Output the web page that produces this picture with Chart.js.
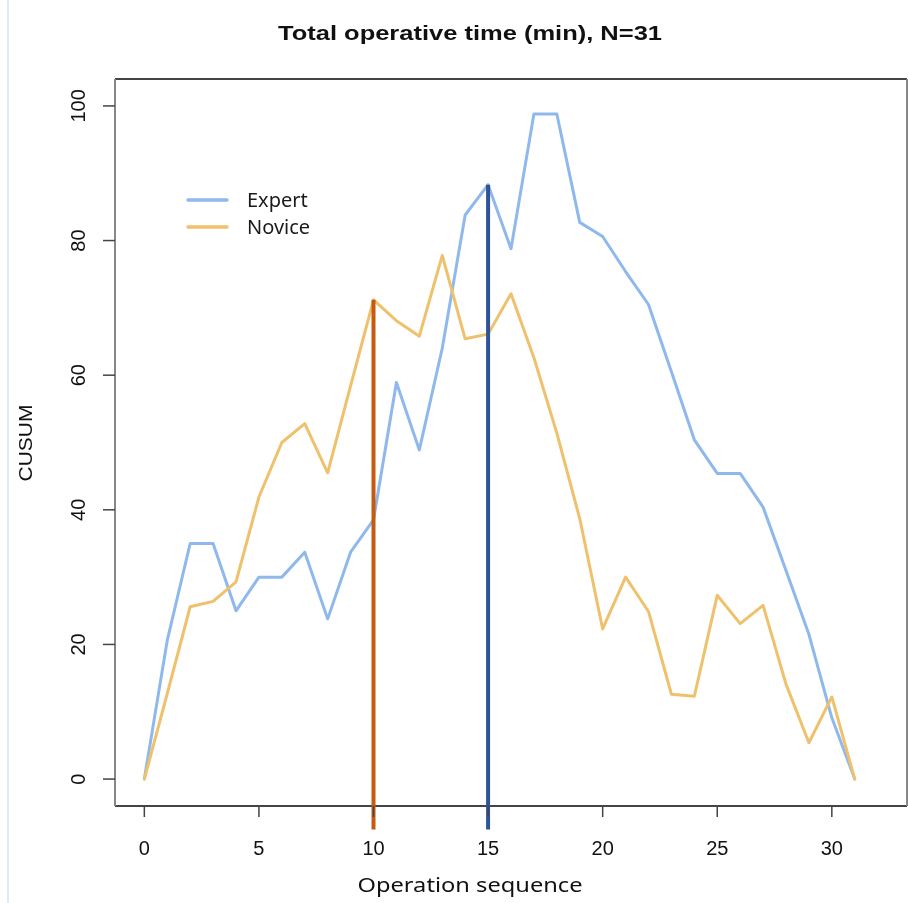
<!DOCTYPE html>
<html>
<head>
<meta charset="UTF-8">
<title>CUSUM total operative time</title>
<style>
	body {margin: 0; background: #fff;}
	#wrap {width: 909px; height: 903px;}
</style>
</head>
<body>
	<div id="wrap"><canvas id="myChart" width="909" height="903"></canvas></div>
<script src="https://cdn.jsdelivr.net/npm/chart.js@4.4.1/dist/chart.umd.min.js"></script>
<script>
	// operation sequence 0..31
	const seq = [0,1,2,3,4,5,6,7,8,9,10,11,12,13,14,15,16,17,18,19,20,21,22,23,24,25,26,27,28,29,30,31];
	// CUSUM values
	const expert = [0, 20.6, 35.0, 35.0, 25.0, 30.0, 30.0, 33.7, 23.8, 33.7, 38.5, 58.9, 48.9, 64.0, 83.8, 88.3,
	                78.8, 98.8, 98.8, 82.7, 80.6, 75.4, 70.5, 60.5, 50.4, 45.4, 45.4, 40.4, 31.0, 21.5, 9.1, 0];
	const novice = [0, 12.7, 25.6, 26.4, 29.3, 41.9, 50.0, 52.8, 45.5, 58.4, 71.2, 68.1, 65.8, 77.8, 65.4, 66.1,
	                72.1, 62.6, 51.4, 38.7, 22.3, 30.0, 24.9, 12.6, 12.3, 27.3, 23.1, 25.8, 14.1, 5.4, 12.2, 0];
	const noviceCut = 10;	// learning curve cut points
	const expertCut = 15;
	const xTicks = [0, 5, 10, 15, 20, 25, 30];
	const yTicks = [0, 20, 40, 60, 80, 100];
	const seriesNames = ['Expert', 'Novice'];

	const colExpert = '#8fb8ec';
	const colNovice = '#efc16c';
	const colNoviceCut = '#c55a11';
	const colExpertCut = '#2f5496';

	function pts(arr) {
		return seq.map(function(s, i) { return {x: s, y: arr[i]}; });
	}

	// draw text squeezed/stretched to a measured width
	function fitText(ctx, text, x, y, w, font, rot) {
		ctx.save();
		ctx.font = font;
		let m = ctx.measureText(text).width;
		ctx.translate(x, y);
		if (rot) ctx.rotate(rot);
		ctx.scale(w / m, 1);
		ctx.textAlign = 'center';
		ctx.textBaseline = 'middle';
		ctx.fillText(text, 0, 0);
		ctx.restore();
	}

	const framePlugin = {
		id: 'frame',
		beforeDatasetsDraw(chart) {
			const ctx = chart.ctx, a = chart.chartArea;
			ctx.save();
			// left edge strip from the screenshot
			ctx.fillStyle = '#dfeaf8';
			ctx.fillRect(7, 0, 2, 903);
			ctx.lineWidth = 2;
			ctx.strokeStyle = '#444';
			ctx.beginPath();
			ctx.moveTo(a.left, a.top); ctx.lineTo(a.right, a.top);
			ctx.moveTo(a.left, a.bottom); ctx.lineTo(a.right, a.bottom);
			ctx.stroke();
			ctx.strokeStyle = '#888';
			ctx.beginPath();
			ctx.moveTo(a.left, a.top); ctx.lineTo(a.left, a.bottom);
			ctx.moveTo(a.right, a.top); ctx.lineTo(a.right, a.bottom);
			ctx.stroke();
			ctx.restore();
		},
		afterDraw(chart) {
			const ctx = chart.ctx, a = chart.chartArea;
			const xs = chart.scales.x, ys = chart.scales.y;
			ctx.save();
			ctx.strokeStyle = '#444';
			ctx.lineWidth = 1.5;
			ctx.fillStyle = '#111';
			// x ticks + labels
			xTicks.forEach(function(t) {
				let px = xs.getPixelForValue(t);
				ctx.beginPath(); ctx.moveTo(px, a.bottom); ctx.lineTo(px, a.bottom + 11); ctx.stroke();
				ctx.font = '20px "Liberation Sans", Arial, sans-serif';
				ctx.textAlign = 'center'; ctx.textBaseline = 'middle';
				ctx.fillText(String(t), px, 849);
			});
			// y ticks + rotated labels
			yTicks.forEach(function(t) {
				let py = ys.getPixelForValue(t);
				ctx.beginPath(); ctx.moveTo(a.left - 12, py); ctx.lineTo(a.left, py); ctx.stroke();
				ctx.save();
				ctx.translate(79, py);
				ctx.rotate(-Math.PI / 2);
				ctx.font = '20px "Liberation Sans", Arial, sans-serif';
				ctx.textAlign = 'center'; ctx.textBaseline = 'middle';
				ctx.fillText(String(t), 0, 0);
				ctx.restore();
			});
			// titles
			fitText(ctx, 'Total operative time (min), N=31', 470, 34, 384, 'bold 21px "Liberation Sans", Arial, sans-serif');
			fitText(ctx, 'Operation sequence', 470, 886, 225, '20px "Noto Sans", sans-serif');
			fitText(ctx, 'CUSUM', 27, 443, 77, '19px "Liberation Sans", Arial, sans-serif', -Math.PI / 2);
			// legend
			[[colExpert, 200], [colNovice, 227]].forEach(function(l, i) {
				ctx.strokeStyle = l[0];
				ctx.lineWidth = 3.5;
				ctx.lineCap = 'round';
				ctx.beginPath(); ctx.moveTo(188, l[1]); ctx.lineTo(227, l[1]); ctx.stroke();
				ctx.fillStyle = '#1a1a1a';
				ctx.font = '20px "Noto Sans", sans-serif';
				ctx.textAlign = 'left'; ctx.textBaseline = 'middle';
				ctx.fillText(seriesNames[i], 247, l[1] + 1);
			});
			ctx.restore();
		}
	};

	const ctx = document.getElementById('myChart');
	const chart = new Chart(ctx, {
		type: 'line',
		data: {
			datasets: [
				{	// cut line novice
					data: [{x: noviceCut, y: -7.5}, {x: noviceCut, y: novice[noviceCut]}],
					borderColor: colNoviceCut, borderWidth: 4, pointRadius: 0, clip: false, order: 1,
					borderCapStyle: 'butt'
				},
				{	// cut line expert
					data: [{x: expertCut, y: -7.5}, {x: expertCut, y: expert[expertCut]}],
					borderColor: colExpertCut, borderWidth: 4, pointRadius: 0, clip: false, order: 1,
					borderCapStyle: 'butt'
				},
				{
					label: seriesNames[1], data: pts(novice),
					borderColor: colNovice, borderWidth: 3, pointRadius: 0, order: 2,
					borderJoinStyle: 'round', borderCapStyle: 'round'
				},
				{
					label: seriesNames[0], data: pts(expert),
					borderColor: colExpert, borderWidth: 3, pointRadius: 0, order: 3,
					borderJoinStyle: 'round', borderCapStyle: 'round'
				}
			]
		},
		options: {
			responsive: false,
			animation: false,
			layout: {padding: {left: 115, right: 2, top: 79, bottom: 97}},
			elements: {line: {tension: 0}},
			plugins: {legend: {display: false}, tooltip: {enabled: false}, title: {display: false}},
			scales: {
				x: {type: 'linear', min: -1.28, max: 33.28, display: false},
				y: {type: 'linear', min: -4, max: 104, display: false}
			}
		},
		plugins: [framePlugin]
	});
</script>
</body>
</html>
